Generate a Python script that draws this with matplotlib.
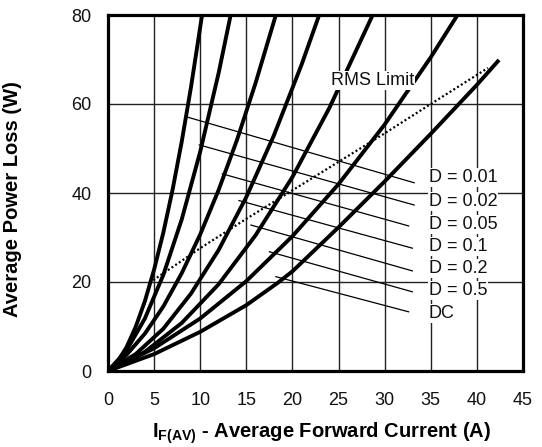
import matplotlib
matplotlib.use("Agg")
import matplotlib.pyplot as plt

plt.rcParams['font.family'] = ['Liberation Sans', 'DejaVu Sans']
plt.rcParams['mathtext.fontset'] = 'custom'
plt.rcParams['mathtext.rm'] = 'Liberation Sans'
plt.rcParams['mathtext.bf'] = 'Liberation Sans:bold'
plt.rcParams['mathtext.it'] = 'Liberation Sans:italic'

# ---- data ----
labels = ["D = 0.01", "D = 0.02", "D = 0.05", "D = 0.1", "D = 0.2", "D = 0.5", "DC"]

i_d001 = [0, 1, 2, 3, 4, 5, 6, 7, 8, 9, 10.2]
p_d001 = [0, 2.0, 5.3, 9.9, 15.7, 22.8, 31.1, 40.7, 51.6, 63.8, 80.0]

i_d002 = [0, 2, 4, 6, 8, 10, 12, 13.3]
p_d002 = [0, 4.6, 11.8, 21.6, 34.1, 49.3, 67.0, 80.0]

i_d005 = [0, 2, 4, 6, 8, 10, 12, 14, 16, 18.2]
p_d005 = [0, 3.6, 8.4, 14.5, 22.0, 30.7, 40.7, 52.0, 64.7, 80.0]

i_d01 = [0, 3, 6, 9, 12, 15, 18, 21, 22.9]
p_d01 = [0, 3.8, 9.5, 17.4, 27.2, 39.1, 53.0, 68.9, 80.0]

i_d02 = [0, 4, 8, 12, 16, 20, 24, 28.7]
p_d02 = [0, 4.3, 10.8, 19.5, 30.5, 43.6, 59.1, 80.0]

i_d05 = [0, 5, 10, 15, 20, 25, 30, 35, 37.9]
p_d05 = [0, 5.1, 11.8, 20.2, 30.3, 42.0, 55.4, 70.5, 80.0]

i_dc = [0, 5, 10, 15, 18.4, 20, 25, 30, 35, 40, 42.4]
p_dc = [0, 3.8, 8.8, 14.8, 19.8, 22.4, 32.3, 42.6, 53.3, 64.3, 69.9]

i_rms = [4.9, 10, 15, 20, 25, 30, 35, 41.2]
p_rms = [20.4, 27.6, 34.2, 40.6, 47.0, 53.4, 60.0, 68.1]

# leader lines (start on curve -> end near label)
lead_x0 = [8.7, 9.9, 12.4, 14.2, 15.5, 17.5, 18.2]
lead_y0 = [57.0, 50.8, 44.3, 38.3, 32.8, 26.8, 21.2]
lead_x1 = [33.2, 33.2, 32.6, 33.0, 33.0, 33.0, 32.6]
lead_y1 = [42.3, 37.3, 32.6, 27.6, 22.5, 17.8, 13.3]
label_y = [43.4, 38.0, 33.0, 28.0, 23.0, 18.0, 13.0]

x_ticks = [0, 5, 10, 15, 20, 25, 30, 35, 40, 45]
y_ticks = [0, 20, 40, 60, 80]

curves = [(i_d001, p_d001), (i_d002, p_d002), (i_d005, p_d005), (i_d01, p_d01),
          (i_d02, p_d02), (i_d05, p_d05), (i_dc, p_dc)]

# ---- figure ----
fig = plt.figure(figsize=(5.42, 4.47), dpi=100)
ax = fig.add_axes([108 / 542, 76 / 447, 415 / 542, 356 / 447])
ax.set_xlim(0, 45)
ax.set_ylim(0, 80)
ax.set_xticks(x_ticks)
ax.set_yticks(y_ticks)
ax.tick_params(length=0, labelsize=13, colors='#111111')
ax.tick_params(axis='x', pad=15)
ax.tick_params(axis='y', pad=12)
ax.grid(True, color='#222222', linewidth=1.0)
ax.set_axisbelow(True)
for s in ax.spines.values():
    s.set_linewidth(2.3)
    s.set_color('black')

for ix, py in curves:
    ax.plot(ix, py, color='black', linewidth=2.8, solid_capstyle='butt', zorder=3)

ax.plot(i_rms, p_rms, color='black', linewidth=1.6, linestyle=(0, (0.9, 1.1)), zorder=3)

for k in range(len(labels)):
    ax.plot([lead_x0[k], lead_x1[k]], [lead_y0[k], lead_y1[k]], color='black',
            linewidth=0.9, zorder=3)
    ax.text(34.8, label_y[k], labels[k], fontsize=13, ha='left', va='center',
            color='#111111', zorder=4,
            bbox=dict(facecolor='white', edgecolor='none', pad=0.6))

ax.text(28.7, 65.3, "RMS Limit", fontsize=13, ha='center', va='center',
        color='#111111', zorder=4,
        bbox=dict(facecolor='white', edgecolor='none', pad=0.6))

ax.text(0.514, -0.188, r'$\mathbf{I_{F(AV)}}$ - Average Forward Current (A)',
        transform=ax.transAxes, ha='center', va='baseline', fontsize=14.5,
        fontweight='bold')
ax.set_ylabel("Average Power Loss (W)", fontsize=14.5, fontweight='bold')
ax.yaxis.set_label_coords(-0.207, 0.482)

fig.savefig("out.png", dpi=100, facecolor='white')
